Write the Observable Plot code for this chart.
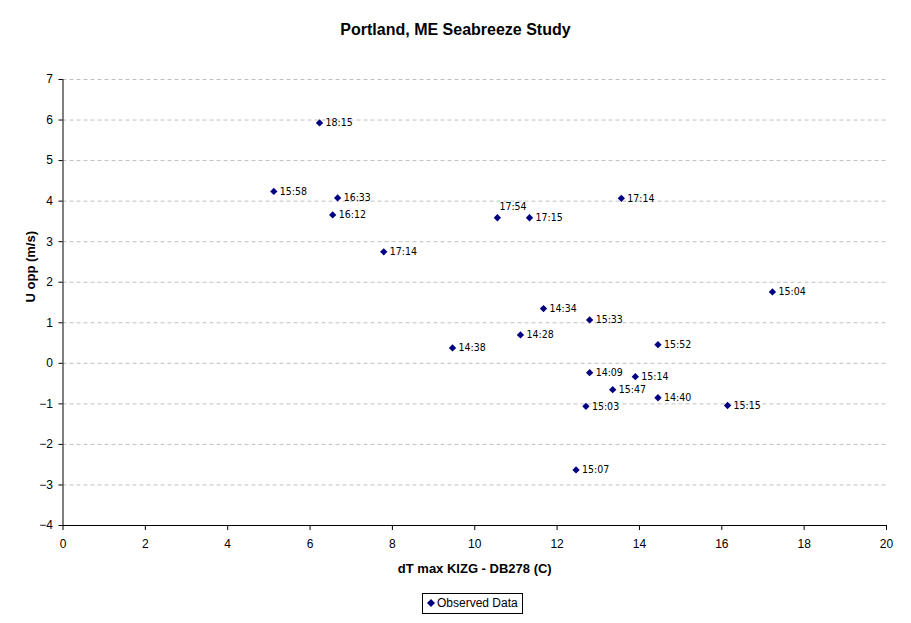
<!DOCTYPE html>
<html>
<head>
<meta charset="utf-8">
<script src="https://cdn.jsdelivr.net/npm/d3@7"></script>
<script src="https://cdn.jsdelivr.net/npm/@observablehq/plot@0.6"></script>
<style>
  html, body { margin: 0; padding: 0; background: #fff; }
  #wrap { position: relative; width: 911px; height: 623px; background: #fff; font-family: "Liberation Sans", Arial, sans-serif; }
  #title { position: absolute; left: 0; top: 21px; width: 911px; text-align: center; font-weight: bold; font-size: 16px; color: #000; }
  #chart { position: absolute; left: 0; top: 50px; }
  #legend { position: absolute; left: 422px; top: 593px; width: 99px; height: 19px; border: 1px solid #000; font-size: 12px; line-height: 19px; color: #000; white-space: nowrap; }
  #legend svg { vertical-align: middle; margin: 0 2px 2px 4px; }
  .narrow { font-family: "Liberation Sans Narrow", "Arial Narrow", "DejaVu Sans Condensed", "Liberation Sans", sans-serif; }
</style>
</head>
<body>
<div id="wrap">
  <div id="title">Portland, ME Seabreeze Study</div>
  <div id="chart"></div>
  <div id="legend"><svg width="8" height="8"><path d="M4,0L8,4L4,8L0,4Z" fill="#000080"/></svg><span style="font-size:12px">Observed Data</span></div>
</div>
<script>
// Data
const times = ["18:15","15:58","16:33","16:12","17:14","17:54","17:15","17:14","14:34","15:33","14:28","14:38","15:52","14:09","15:14","15:47","14:40","15:03","15:15","15:07","15:04"];
const dT    = [6.23, 5.12, 6.67, 6.55, 7.79, 10.55, 11.33, 13.56, 11.67, 12.79, 11.11, 9.46, 14.45, 12.79, 13.90, 13.35, 14.45, 12.70, 16.14, 12.46, 17.23];
const uOpp  = [5.93, 4.24, 4.08, 3.66, 2.75, 3.59, 3.59, 4.07, 1.35, 1.07, 0.70, 0.38, 0.46, -0.23, -0.33, -0.65, -0.85, -1.06, -1.04, -2.63, 1.76];
const xTicks = [0, 2, 4, 6, 8, 10, 12, 14, 16, 18, 20];
const yTicks = [-4, -3, -2, -1, 0, 1, 2, 3, 4, 5, 6, 7];
const xLabel = "dT max KIZG - DB278 (C)";
const yLabel = "U opp (m/s)";

const data = times.map((t, i) => ({time: t, x: dT[i], y: uOpp[i]}));
const aboveLabel = data.filter(d => d.time === "17:54");
const rightLabels = data.filter(d => d.time !== "17:54");

const chart = Plot.plot({
  width: 911,
  height: 535,
  marginLeft: 62.5,
  marginRight: 25,
  marginTop: 29,
  marginBottom: 60,
  style: {fontFamily: "'Liberation Sans', Arial, sans-serif", fontSize: "12px", color: "#000", background: "#fff", overflow: "visible"},
  x: {domain: [0, 20]},
  y: {domain: [-4, 7]},
  marks: [
    Plot.ruleY(yTicks.filter(d => d > -4), {stroke: "#c0c0c0", strokeDasharray: "4,3"}),
    Plot.axisX({ticks: xTicks, tickSize: 5, tickPadding: 9, label: null, stroke: "#000", fill: "#000", strokeOpacity: 1}),
    Plot.axisY({ticks: yTicks, tickSize: 4, tickPadding: 6, label: null, stroke: "#000", fill: "#000", strokeOpacity: 1}),
    Plot.ruleX([0], {stroke: "#000"}),
    Plot.ruleY([-4], {stroke: "#000"}),
    Plot.dot(data, {x: "x", y: "y", symbol: "diamond2", r: 3.3, fill: "#000080", stroke: null}),
    Plot.text(rightLabels, {x: "x", y: "y", text: "time", dx: 6, textAnchor: "start", fontSize: 10.5, className: "narrow", fill: "#000"}),
    Plot.text(aboveLabel, {x: "x", y: "y", text: "time", dx: 2, dy: -11, textAnchor: "start", fontSize: 10.5, className: "narrow", fill: "#000"}),
    Plot.text([xLabel], {frameAnchor: "bottom", dy: 47, fontWeight: "bold", fontSize: 13, fill: "#000"}),
    Plot.text([yLabel], {frameAnchor: "left", dx: -32.5, rotate: -90, fontWeight: "bold", fontSize: 13, fill: "#000"})
  ]
});
document.getElementById("chart").appendChild(chart);
</script>
</body>
</html>
